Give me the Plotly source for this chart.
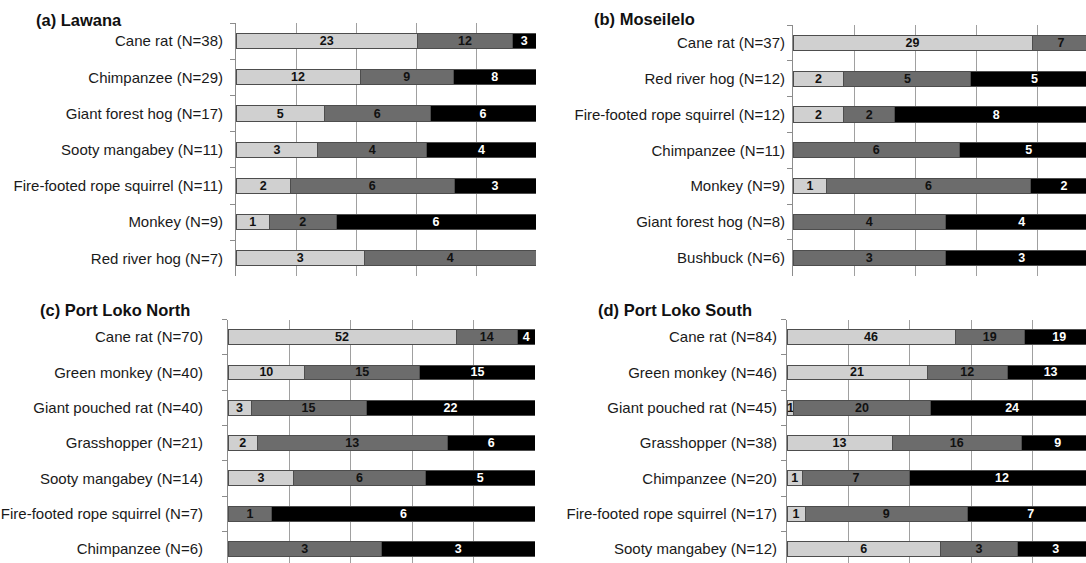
import plotly.graph_objects as go

W, H = 1086, 563

# ---------------- data ----------------
titles = ["(a) Lawana", "(b) Moseilelo", "(c) Port Loko North", "(d) Port Loko South"]

a_species = ["Cane rat (N=38)", "Chimpanzee (N=29)", "Giant forest hog (N=17)", "Sooty mangabey (N=11)",
             "Fire-footed rope squirrel (N=11)", "Monkey (N=9)", "Red river hog (N=7)"]
a_light = [23, 12, 5, 3, 2, 1, 3]
a_mid = [12, 9, 6, 4, 6, 2, 4]
a_dark = [3, 8, 6, 4, 3, 6, 0]

b_species = ["Cane rat (N=37)", "Red river hog (N=12)", "Fire-footed rope squirrel (N=12)", "Chimpanzee (N=11)",
             "Monkey (N=9)", "Giant forest hog (N=8)", "Bushbuck (N=6)"]
b_light = [29, 2, 2, 0, 1, 0, 0]
b_mid = [7, 5, 2, 6, 6, 4, 3]
b_dark = [1, 5, 8, 5, 2, 4, 3]

c_species = ["Cane rat (N=70)", "Green monkey (N=40)", "Giant pouched rat (N=40)", "Grasshopper (N=21)",
             "Sooty mangabey (N=14)", "Fire-footed rope squirrel (N=7)", "Chimpanzee (N=6)"]
c_light = [52, 10, 3, 2, 3, 0, 0]
c_mid = [14, 15, 15, 13, 6, 1, 3]
c_dark = [4, 15, 22, 6, 5, 6, 3]

d_species = ["Cane rat (N=84)", "Green monkey (N=46)", "Giant pouched rat (N=45)", "Grasshopper (N=38)",
             "Chimpanzee (N=20)", "Fire-footed rope squirrel (N=17)", "Sooty mangabey (N=12)"]
d_light = [46, 21, 1, 13, 1, 1, 6]
d_mid = [19, 12, 20, 16, 7, 9, 3]
d_dark = [19, 13, 24, 9, 12, 7, 3]

panels = [
    (a_species, a_light, a_mid, a_dark),
    (b_species, b_light, b_mid, b_dark),
    (c_species, c_light, c_mid, c_dark),
    (d_species, d_light, d_mid, d_dark),
]

# ---------------- layout geometry (pixels) ----------------
geom = [
    dict(x0=236, x100=536, ytop=23, band=36.2, standoff=9, tx=34, ty=20),
    dict(x0=793, x100=1098, ytop=25, band=35.8, standoff=4, tx=592, ty=19),
    dict(x0=228, x100=535, ytop=319.5, band=35.3, standoff=21, tx=38, ty=310),
    dict(x0=787, x100=1094, ytop=319.5, band=35.3, standoff=6, tx=596, ty=310),
]

colors = ["#d0d0d0", "#6c6c6c", "#000000"]
txtcolors = ["#111111", "#111111", "#ffffff"]
FONT = "Liberation Sans, Arial, Helvetica, sans-serif"

fig = go.Figure()
annotations = []

for i, ((species, light, mid, dark), g) in enumerate(zip(panels, geom)):
    n = [l + m + d for l, m, d in zip(light, mid, dark)]
    xa = "x" if i == 0 else f"x{i+1}"
    ya = "y" if i == 0 else f"y{i+1}"

    x_dom_end = min(g["x100"], W)
    xmax = 100 * (x_dom_end - g["x0"]) / (g["x100"] - g["x0"])

    cum = [0.0] * len(n)
    for k, series in enumerate([light, mid, dark]):
        pct = [v / t * 100 for v, t in zip(series, n)]
        labels = []
        for j, (v, p) in enumerate(zip(series, pct)):
            centre = cum[j] + p / 2
            labels.append(str(v) if (v > 0 and centre < xmax - 1) else "")
            cum[j] += p
        fig.add_trace(go.Bar(
            y=species, x=pct, orientation="h",
            xaxis=xa, yaxis=ya,
            marker=dict(color=colors[k], line=dict(color="#4d4d4d", width=1)),
            width=0.42,
            text=labels,
            textposition="inside", insidetextanchor="middle", textangle=0,
            constraintext="none", cliponaxis=True,
            textfont=dict(family=FONT, size=12.5, color=txtcolors[k], weight="bold"),
            showlegend=False, hoverinfo="skip",
        ))

    ybot_full = g["ytop"] + 7 * g["band"]
    ybot = min(ybot_full, H)
    ybot_val = -0.5 + (ybot - g["ytop"]) / g["band"]

    sfx = "" if i == 0 else str(i + 1)
    fig.layout["xaxis" + sfx] = dict(
        domain=[g["x0"] / W, x_dom_end / W], range=[0, xmax], anchor=ya,
        showgrid=True, gridcolor="#a0a0a0", gridwidth=1, dtick=20, tick0=0,
        showticklabels=False, zeroline=False, showline=False, fixedrange=True,
    )
    fig.layout["yaxis" + sfx] = dict(
        domain=[1 - ybot / H, 1 - g["ytop"] / H], anchor=xa,
        type="category", categoryorder="array", categoryarray=species,
        range=[ybot_val, -0.5],
        showline=True, linecolor="#8c8c8c", linewidth=1,
        ticks="outside", tickson="boundaries", ticklen=5, tickcolor="#8c8c8c",
        ticklabelstandoff=g["standoff"],
        tickfont=dict(family=FONT, size=15, color="#1a1a1a"),
        showgrid=False, zeroline=False, fixedrange=True,
    )
    annotations.append(dict(
        text=titles[i], x=g["tx"] / W, y=1 - g["ty"] / H, xref="paper", yref="paper",
        xanchor="left", yanchor="middle", showarrow=False,
        font=dict(family=FONT, size=16.5, color="#111111", weight="bold"),
    ))

fig.update_layout(
    width=W, height=H, margin=dict(l=0, r=0, t=0, b=0),
    barmode="stack",
    plot_bgcolor="white", paper_bgcolor="white",
    annotations=annotations,
)

fig.write_html(
    "out.html",
    config={"displayModeBar": False, "staticPlot": True},
    post_script="document.body.style.margin='0px';document.body.style.overflow='hidden';",
)
